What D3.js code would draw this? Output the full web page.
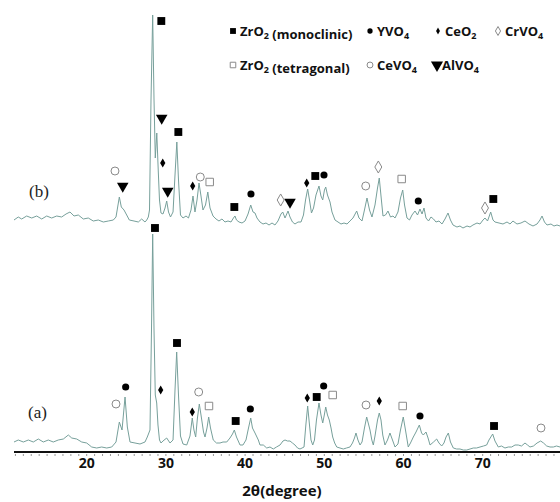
<!DOCTYPE html>
<html>
<head>
<meta charset="utf-8">
<script src="https://cdn.jsdelivr.net/npm/d3@7"></script>
<style>
  body { margin: 0; background: #fff; }
  svg { display: block; }
</style>
</head>
<body>
<script>
// XRD patterns: [2theta (deg), intensity (a.u.)]
var patternA = [
  [10.82,10],[11.36,12],[12.00,10],[12.63,12],[13.26,10],[13.89,13],[14.52,10],[15.15,12],[15.78,10],[16.41,12],
  [17.05,13],[17.68,17],[18.11,14],[18.74,13],[19.37,10],[20.00,9],[20.63,5],[21.26,4],[21.89,5],[22.53,4],
  [23.16,5],[23.70,10],[24.12,30],[24.46,22],[24.84,55],[25.13,25],[25.47,10],[26.10,9],[26.73,8],[27.36,10],
  [27.65,15],[27.99,22],[28.18,122],[28.33,218],[28.50,122],[28.66,57],[28.84,49],[29.00,27],[29.19,12],[29.38,9],
  [29.63,11],[30.10,14],[30.52,9],[30.90,12],[31.15,62],[31.36,100],[31.59,57],[31.84,16],[32.16,8],[32.63,7],
  [33.04,16],[33.33,34],[33.54,22],[33.76,15],[33.98,34],[34.22,48],[34.49,34],[34.75,20],[34.94,15],[35.19,24],
  [35.40,35],[35.63,24],[35.98,12],[36.39,9],[36.83,9],[37.21,10],[37.68,10],[38.09,14],[38.41,18],[38.64,22],
  [38.91,15],[39.36,7],[39.73,7],[40.11,12],[40.43,24],[40.71,34],[40.93,24],[41.25,19],[41.67,12],[41.88,7],
  [42.30,7],[42.73,4],[43.14,5],[43.56,3],[43.96,5],[44.41,7],[44.78,11],[45.04,12],[45.35,11],[45.67,11],
  [45.98,9],[46.30,7],[46.62,4],[46.93,3],[47.19,4],[47.44,5],[47.67,27],[47.90,46],[48.13,27],[48.32,12],
  [48.54,7],[48.76,12],[49.01,32],[49.33,49],[49.58,37],[49.80,29],[50.00,37],[50.18,45],[50.40,37],[50.63,32],
  [50.85,24],[51.06,15],[51.31,9],[51.57,5],[51.98,4],[52.40,3],[52.80,4],[53.24,5],[53.56,9],[53.81,14],
  [54.00,19],[54.25,12],[54.51,7],[54.76,10],[55.07,24],[55.35,35],[55.58,28],[55.77,22],[56.00,12],[56.19,7],
  [56.40,16],[56.72,32],[56.94,39],[57.16,32],[57.38,17],[57.66,7],[57.98,12],[58.29,19],[58.61,12],[58.93,5],
  [59.30,8],[59.62,22],[59.97,35],[60.25,22],[60.60,5],[60.88,9],[61.24,15],[61.58,20],[62.00,27],[62.28,19],
  [62.50,17],[62.84,20],[63.10,14],[63.35,7],[63.79,10],[64.19,13],[64.48,9],[64.82,6],[65.11,9],[65.37,15],
  [65.66,19],[65.93,10],[66.29,4],[66.71,3],[67.13,3],[67.55,2],[67.98,2],[68.40,3],[68.81,4],[69.22,4],
  [69.66,5],[70.10,6],[70.50,7],[70.79,12],[71.26,18],[71.55,11],[71.97,5],[72.37,6],[72.81,4],[73.23,5],
  [73.66,5],[74.08,7],[74.49,7],[74.90,6],[75.34,9],[75.66,7],[75.97,5],[76.41,6],[76.86,9],[77.32,11],
  [77.68,9],[78.08,6],[78.50,5],[78.92,5],[79.32,6],[79.76,5]
];

var patternB = [
  [10.82,7],[11.36,10],[11.79,8],[12.42,11],[13.06,9],[13.69,11],[14.32,8],[14.95,11],[15.58,9],[16.21,11],
  [16.84,10],[17.39,13],[17.89,15],[18.40,11],[18.94,12],[19.57,8],[20.20,9],[20.83,6],[21.46,7],[22.10,5],
  [22.73,6],[23.36,7],[23.70,10],[24.12,30],[24.37,20],[24.71,17],[25.05,12],[25.38,7],[25.97,6],[26.52,5],
  [26.94,8],[27.36,5],[27.58,7],[27.78,10],[27.93,17],[28.12,127],[28.33,212],[28.50,127],[28.66,69],[28.85,94],
  [29.03,57],[29.19,27],[29.38,14],[29.63,13],[29.89,19],[30.10,26],[30.33,15],[30.58,10],[30.90,15],[31.15,52],
  [31.38,85],[31.59,47],[31.84,12],[32.16,9],[32.54,11],[32.85,9],[33.17,17],[33.42,31],[33.67,15],[33.93,27],
  [34.18,44],[34.43,31],[34.68,17],[35.00,22],[35.29,35],[35.57,19],[35.95,11],[36.33,8],[36.70,6],[37.08,8],
  [37.46,5],[37.84,6],[38.22,5],[38.53,9],[38.72,11],[38.91,7],[39.23,5],[39.61,4],[39.99,6],[40.37,13],
  [40.71,22],[41.00,15],[41.25,14],[41.50,9],[41.88,5],[42.26,3],[42.64,4],[43.02,2],[43.40,4],[43.77,2],
  [44.15,6],[44.53,13],[44.75,15],[45.04,9],[45.42,16],[45.67,10],[45.98,5],[46.30,3],[46.68,5],[47.06,5],
  [47.37,12],[47.63,27],[47.90,38],[48.13,27],[48.38,14],[48.64,19],[48.95,32],[49.33,41],[49.58,31],[49.80,27],
  [50.02,37],[50.18,40],[50.40,32],[50.72,25],[50.97,15],[51.35,7],[51.73,5],[52.11,3],[52.49,4],[52.87,3],
  [53.24,6],[53.62,9],[54.09,16],[54.38,9],[54.76,6],[55.07,17],[55.39,29],[55.71,17],[56.02,10],[56.40,22],
  [56.72,39],[56.94,49],[57.16,31],[57.41,11],[57.73,12],[58.04,16],[58.36,10],[58.67,11],[58.93,9],[59.30,15],
  [59.62,29],[59.90,37],[60.13,22],[60.44,9],[60.76,7],[61.07,12],[61.45,16],[61.77,12],[62.08,18],[62.34,13],
  [62.59,19],[62.84,9],[63.16,6],[63.47,10],[63.79,8],[64.10,5],[64.48,6],[64.86,3],[65.24,8],[65.62,14],
  [65.93,7],[66.25,2],[66.75,0],[67.13,1],[67.51,-1],[68.02,1],[68.40,0],[68.77,2],[69.28,4],[69.66,3],
  [70.04,7],[70.29,9],[70.61,6],[71.01,15],[71.30,7],[71.55,5],[72.06,4],[72.56,3],[73.07,5],[73.45,3],
  [73.82,6],[74.33,3],[74.83,4],[75.34,6],[75.84,3],[76.35,1],[76.86,3],[77.23,7],[77.49,11],[77.80,5],
  [78.12,2],[78.62,3],[79.00,1],[79.38,2],[79.76,1]
];
var offsetB = 225;   // vertical offset of pattern (b), a.u.

// phase markers: [phase, 2theta, intensity]
var markersA = [
  ["CeVO4",23.70,48],["YVO4",24.92,65],["ZrO2m",28.62,224],["CeO2",29.34,62],["ZrO2m",31.40,109],
  ["CeO2",33.33,40],["CeVO4",34.14,60],["ZrO2t",35.44,46],["ZrO2m",38.81,31],["YVO4",40.66,43],
  ["CeO2",47.85,54],["ZrO2m",49.04,55],["YVO4",49.92,66],["ZrO2t",51.06,57],["CeVO4",55.27,47],
  ["CeO2",56.94,51],["ZrO2t",59.90,46],["YVO4",62.08,36],["ZrO2m",71.43,26],["CeVO4",77.36,24]
];
var markersB = [
  ["CeVO4",23.57,56],["AlVO4",24.55,41],["ZrO2m",29.42,206],["AlVO4",29.47,109],["CeO2",29.60,64],
  ["AlVO4",30.23,36],["ZrO2m",31.57,95],["CeO2",33.38,41],["CeVO4",34.34,50],["ZrO2t",35.53,45],
  ["ZrO2m",38.64,20],["YVO4",40.74,33],["CrVO4",44.49,27],["AlVO4",45.67,25],["CeO2",47.78,44],
  ["ZrO2m",48.86,51],["YVO4",49.96,52],["CeVO4",55.23,41],["CrVO4",56.82,60],["ZrO2t",59.77,48],
  ["YVO4",61.87,26],["CrVO4",70.29,19],["ZrO2m",71.34,28]
];

var legendRow1 = [["ZrO2m","ZrO2 (monoclinic)"],["YVO4","YVO4"],["CeO2","CeO2"],["CrVO4","CrVO4"]];
var legendRow2 = [["ZrO2t","ZrO2 (tetragonal)"],["CeVO4","CeVO4"],["AlVO4","AlVO4"]];
var tickLabels = [20, 30, 40, 50, 60, 70];

var width = 560, height = 502;
var lineColor = "#77a09b";

var svg = d3.select("body").append("svg")
    .attr("width", width)
    .attr("height", height);

var x = d3.scaleLinear().domain([10.82, 79.76]).range([14, 560]);
var y = d3.scaleLinear().domain([0, 440]).range([452, 12]);

// marker look per phase
var symbolStyle = {
  ZrO2m: {type: d3.symbolSquare, size: 62, fill: "#000", stroke: "none"},
  YVO4:  {type: d3.symbolCircle, size: 40, fill: "#000", stroke: "none"},
  CeO2:  {type: d3.symbolDiamond, size: 24, fill: "#000", stroke: "none"},
  CrVO4: {type: d3.symbolDiamond, size: 42, fill: "#fff", stroke: "#8a8a8a"},
  ZrO2t: {type: d3.symbolSquare, size: 56, fill: "#fff", stroke: "#8a8a8a"},
  CeVO4: {type: d3.symbolCircle, size: 50, fill: "#fff", stroke: "#8a8a8a"},
  AlVO4: {type: d3.symbolTriangle, size: 58, fill: "#000", stroke: "none", flip: true}
};

function drawSymbol(g, key, k) {
  var s = symbolStyle[key];
  g.append("path")
    .attr("d", d3.symbol().type(s.type).size(s.size * k)())
    .attr("transform", s.flip ? "rotate(180)" : null)
    .attr("fill", s.fill)
    .attr("stroke", s.stroke)
    .attr("stroke-width", 1);
}

// write "ZrO2" style names with subscripts
function chemText(t, str) {
  var parts = str.split(/(\d)/);
  parts.forEach(function(p) {
    if (p === "") return;
    if (/\d/.test(p)) {
      t.append("tspan").attr("font-size", "9px").attr("dy", 3).text(p);
      t.append("tspan").attr("dy", -3).text("");
    } else {
      t.append("tspan").text(p);
    }
  });
}

// axis
var axisY = 452;
svg.append("line")
    .attr("x1", 14).attr("x2", 560)
    .attr("y1", axisY).attr("y2", axisY)
    .attr("stroke", "#111").attr("stroke-width", 2);

svg.append("g").selectAll("line")
    .data(d3.range(11, 80))
    .enter().append("line")
    .attr("x1", d => x(d)).attr("x2", d => x(d))
    .attr("y1", axisY + 2).attr("y2", axisY + 4)
    .attr("stroke", "#999").attr("stroke-width", 1);

svg.append("g").selectAll("text")
    .data(tickLabels)
    .enter().append("text")
    .attr("x", d => x(d))
    .attr("y", 468)
    .attr("text-anchor", "middle")
    .attr("font-family", "'Open Sans', sans-serif")
    .attr("font-weight", 700)
    .attr("font-size", "14px")
    .attr("fill", "#111")
    .text(d => d);

svg.append("text")
    .attr("x", 282).attr("y", 496)
    .attr("text-anchor", "middle")
    .attr("font-family", "'Open Sans', sans-serif")
    .attr("font-weight", 700)
    .attr("font-size", "15px")
    .attr("fill", "#111")
    .text("2θ(degree)");

// patterns
var lineA = d3.line().x(d => x(d[0])).y(d => y(d[1]));
var lineB = d3.line().x(d => x(d[0])).y(d => y(d[1] + offsetB));

svg.append("path").datum(patternB)
    .attr("d", lineB)
    .attr("fill", "none").attr("stroke", lineColor).attr("stroke-width", 1);

svg.append("path").datum(patternA)
    .attr("d", lineA)
    .attr("fill", "none").attr("stroke", lineColor).attr("stroke-width", 1);

// markers
markersA.forEach(function(m) {
  var g = svg.append("g").attr("transform", `translate(${x(m[1])},${y(m[2])})`);
  drawSymbol(g, m[0], 1);
});
markersB.forEach(function(m) {
  var g = svg.append("g").attr("transform", `translate(${x(m[1])},${y(m[2] + offsetB)})`);
  drawSymbol(g, m[0], 1);
});

// sample labels
svg.append("text").attr("x", 29).attr("y", 197)
    .attr("font-family", "'Liberation Serif', serif").attr("font-size", "17px")
    .attr("fill", "#222").text("(b)");
svg.append("text").attr("x", 28).attr("y", 418)
    .attr("font-family", "'Liberation Serif', serif").attr("font-size", "17px")
    .attr("fill", "#222").text("(a)");

// legend
var legendX1 = [233, 370, 438, 498];
var legendX2 = [233, 370, 437];
function drawLegendRow(items, xs, cy) {
  items.forEach(function(it, i) {
    var g = svg.append("g").attr("transform", `translate(${xs[i]},${cy})`);
    drawSymbol(g, it[0], it[0] === "AlVO4" ? 1.1 : 0.55);
    var t = g.append("text")
        .attr("x", it[0] === "AlVO4" ? 5 : 7).attr("y", 5)
        .attr("font-family", "'Open Sans', sans-serif")
        .attr("font-weight", 700)
        .attr("font-size", "13px")
        .attr("fill", "#111");
    chemText(t, it[1]);
  });
}
drawLegendRow(legendRow1, legendX1, 31);
drawLegendRow(legendRow2, legendX2, 65);
</script>
</body>
</html>
